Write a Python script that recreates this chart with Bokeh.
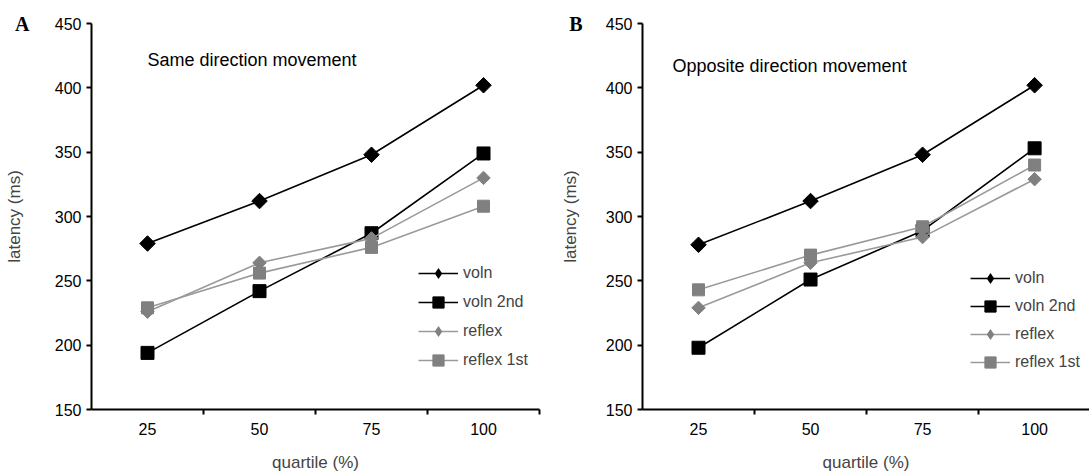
import numpy as np
from bokeh.plotting import figure
from bokeh.layouts import row
from bokeh.models import Range1d, FixedTicker, Label, Legend, LegendItem, LinearAxis
from bokeh.embed import file_html
from bokeh.resources import INLINE

# ---------------- data ----------------
quartile_labels = ["25", "50", "75", "100"]
x_pos = [1, 2, 3, 4]
y_ticks = [150, 200, 250, 300, 350, 400, 450]
series_names = ["voln", "voln 2nd", "reflex", "reflex 1st"]

same_voln = [279, 312, 348, 402]
same_voln_2nd = [194, 242, 287, 349]
same_reflex = [226, 264, 283, 330]
same_reflex_1st = [229, 256, 276, 308]

opp_voln = [278, 312, 348, 402]
opp_voln_2nd = [198, 251, 289, 353]
opp_reflex = [229, 264, 284, 329]
opp_reflex_1st = [243, 270, 292, 340]

# ---------------- styles ----------------
STYLES = [
    dict(line="#000000", fill="#000000", size=11, angle=np.pi / 4, diamond=True),   # voln
    dict(line="#000000", fill="#000000", size=13, angle=0.0, diamond=False),        # voln 2nd
    dict(line="#9a9a9a", fill="#808080", size=9.5, angle=np.pi / 4, diamond=True),  # reflex
    dict(line="#9a9a9a", fill="#808080", size=12, angle=0.0, diamond=False),        # reflex 1st
]
FONT = "Liberation Sans"


def make_panel(series, title, letter, width, border_left, border_right, border_top,
               border_bottom, x_end, title_x_offset, title_y, letter_standoff,
               ylabel_standoff, legend_loc, legend_spacing):
    p = figure(width=width, height=476, output_backend="svg", toolbar_location=None,
               x_range=Range1d(0.5, x_end), y_range=Range1d(150, 450),
               min_border_left=border_left, min_border_right=border_right,
               min_border_top=border_top, min_border_bottom=border_bottom)
    p.outline_line_color = None
    p.xgrid.visible = False
    p.ygrid.visible = False
    p.background_fill_color = "white"
    p.border_fill_color = "white"

    # x axis: labels at category centres, tick marks between categories
    xa = p.xaxis[0]
    xa.ticker = FixedTicker(ticks=x_pos, minor_ticks=[1.5, 2.5, 3.5, 4.5])
    xa.major_label_overrides = {x: lab for x, lab in zip(x_pos, quartile_labels)}
    xa.major_tick_line_color = None
    xa.major_tick_out = 5
    xa.major_tick_in = 0
    xa.minor_tick_line_color = "black"
    xa.minor_tick_line_width = 2
    xa.minor_tick_out = 5
    xa.minor_tick_in = 0
    xa.axis_line_width = 2
    xa.major_label_standoff = 8
    xa.major_label_text_font = FONT
    xa.major_label_text_font_size = "16px"
    xa.major_label_text_color = "black"
    xa.axis_label = "quartile (%)"
    xa.axis_label_text_font = FONT
    xa.axis_label_text_font_size = "17px"
    xa.axis_label_text_font_style = "normal"
    xa.axis_label_standoff = 15

    ya = p.yaxis[0]
    ya.ticker = FixedTicker(ticks=y_ticks)
    ya.minor_tick_line_color = None
    ya.major_tick_out = 5
    ya.major_tick_in = 0
    ya.major_tick_line_width = 2
    ya.axis_line_width = 2
    ya.major_label_standoff = 5
    ya.major_label_text_font = FONT
    ya.major_label_text_font_size = "16px"
    ya.major_label_text_color = "black"

    # outer left axis: carries the panel letter (at the top) and the y-axis title
    ea = LinearAxis(ticker=FixedTicker(ticks=[450]), major_label_overrides={450: letter})
    ea.axis_line_color = None
    ea.major_tick_line_color = None
    ea.minor_tick_line_color = None
    ea.major_tick_out = 0
    ea.major_tick_in = 0
    ea.major_label_standoff = letter_standoff
    ea.major_label_text_font = "Liberation Serif"
    ea.major_label_text_font_style = "bold"
    ea.major_label_text_font_size = "20px"
    ea.major_label_text_color = "black"
    ea.axis_label = "latency (ms)"
    ea.axis_label_text_font = FONT
    ea.axis_label_text_font_size = "17px"
    ea.axis_label_text_font_style = "normal"
    ea.axis_label_standoff = ylabel_standoff
    p.add_layout(ea, "left")

    items = []
    for name, vals, st in zip(series_names, series, STYLES):
        lr = p.line(x_pos, vals, line_color=st["line"], line_width=1.6)
        sr = p.scatter(x_pos, vals, marker="square", size=st["size"], angle=st["angle"],
                       fill_color=st["fill"], line_color=st["fill"], line_width=1)
        if st["diamond"]:
            # zero-size twin: invisible in the plot, gives the legend an upright diamond
            kr = p.scatter(x_pos, vals, marker="diamond", size=0,
                           fill_color=st["fill"], line_color=None)
            items.append(LegendItem(label=name, renderers=[lr, kr]))
        else:
            items.append(LegendItem(label=name, renderers=[lr, sr]))

    legend = Legend(items=items, location=legend_loc, border_line_color=None,
                    background_fill_alpha=0, padding=0, margin=0,
                    glyph_width=40, glyph_height=28, label_height=20,
                    spacing=legend_spacing, label_standoff=5,
                    label_text_font=FONT, label_text_font_size="16px")
    p.add_layout(legend)

    p.add_layout(Label(x=1, y=title_y, x_offset=title_x_offset, text=title,
                       text_font=FONT, text_font_size="18px", text_align="left",
                       text_baseline="middle", text_color="black"))
    return p


pA = make_panel([same_voln, same_voln_2nd, same_reflex, same_reflex_1st],
                "Same direction movement", "A",
                width=545, border_left=91, border_right=6, border_top=23, border_bottom=67,
                x_end=4.5, title_x_offset=0, title_y=422, letter_standoff=22,
                ylabel_standoff=-12, legend_loc=(327, 35), legend_spacing=1)

pB = make_panel([opp_voln, opp_voln_2nd, opp_reflex, opp_reflex_1st],
                "Opposite direction movement", "B",
                width=544, border_left=97, border_right=0, border_top=15, border_bottom=65,
                x_end=4.49, title_x_offset=-26, title_y=417, letter_standoff=20,
                ylabel_standoff=-14, legend_loc=(328, 33), legend_spacing=0)

layout = row(pA, pB)
open("out.html", "w").write(file_html(layout, INLINE))
